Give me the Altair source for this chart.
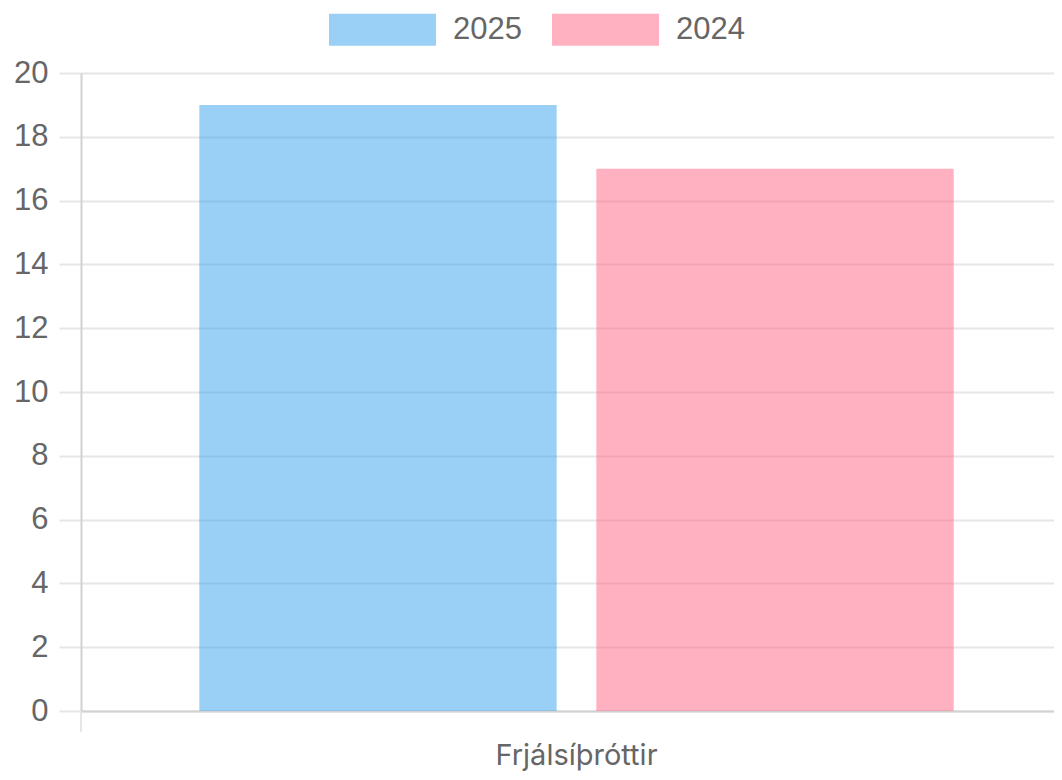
import altair as alt
import pandas as pd

categories = ["Frjálsíþróttir"]
series = ["2025", "2024"]
values_2025 = [19]
values_2024 = [17]
colors = ["#36A2EB", "#FF6384"]
y_ticks = [0, 2, 4, 6, 8, 10, 12, 14, 16, 18, 20]

rows = []
for i, c in enumerate(categories):
    rows.append({"cat": c, "year": "2025", "value": values_2025[i]})
    rows.append({"cat": c, "year": "2024", "value": values_2024[i]})
df = pd.DataFrame(rows)

FONT = "Liberation Sans"
GRID = "#e6e6e6"
DOMAIN = "#d2d2d2"
TXT = "#666666"

bars = alt.Chart(df).mark_bar(opacity=0.5).encode(
    x=alt.X(
        "cat:N", title=None, sort=categories,
        scale=alt.Scale(paddingInner=0, paddingOuter=0.124),
        axis=alt.Axis(labelAngle=0, ticks=False, domain=True, domainColor=DOMAIN,
                      domainWidth=2, labelFontSize=29, labelColor=TXT, labelFont="Inter",
                      labelPadding=30, grid=False),
    ),
    xOffset=alt.XOffset("year:N", sort=series,
                        scale=alt.Scale(paddingInner=0.1, paddingOuter=0.05)),
    y=alt.Y(
        "value:Q", title=None,
        scale=alt.Scale(domain=[0, 20], nice=False),
        axis=alt.Axis(values=y_ticks, grid=True, gridColor=GRID, gridWidth=2,
                      tickSize=22, tickColor=GRID, tickWidth=2, domainColor=DOMAIN,
                      domainWidth=2, labelFontSize=31, labelColor=TXT, labelPadding=11,
                      labelFont=FONT),
    ),
    color=alt.Color(
        "year:N", sort=series,
        scale=alt.Scale(domain=series, range=colors),
        legend=alt.Legend(
            title=None, orient="none", direction="horizontal",
            legendX=248, legendY=-97,
            symbolType="M-1,-0.3L1,-0.3L1,0.3L-1,0.3Z",
            symbolSize=11449, symbolOpacity=0.5, symbolStrokeWidth=0,
            labelFontSize=31, labelColor=TXT, labelFont=FONT,
            labelOffset=17, columnPadding=30, padding=0,
        ),
    ),
)

edge = alt.Chart(pd.DataFrame({"a": [0]})).mark_rule(color=GRID, strokeWidth=2).encode(
    x=alt.value(0), y=alt.value(638), y2=alt.value(659)
)

chart = alt.layer(bars, edge).properties(
    width=991, height=638,
    autosize=alt.AutoSizeParams(type="none"),
    padding={"left": 73, "top": 65, "right": -18, "bottom": 61},
    background="white",
).configure_view(stroke=None)

chart.save("out.html", embed_options={"renderer": "svg", "actions": False})
